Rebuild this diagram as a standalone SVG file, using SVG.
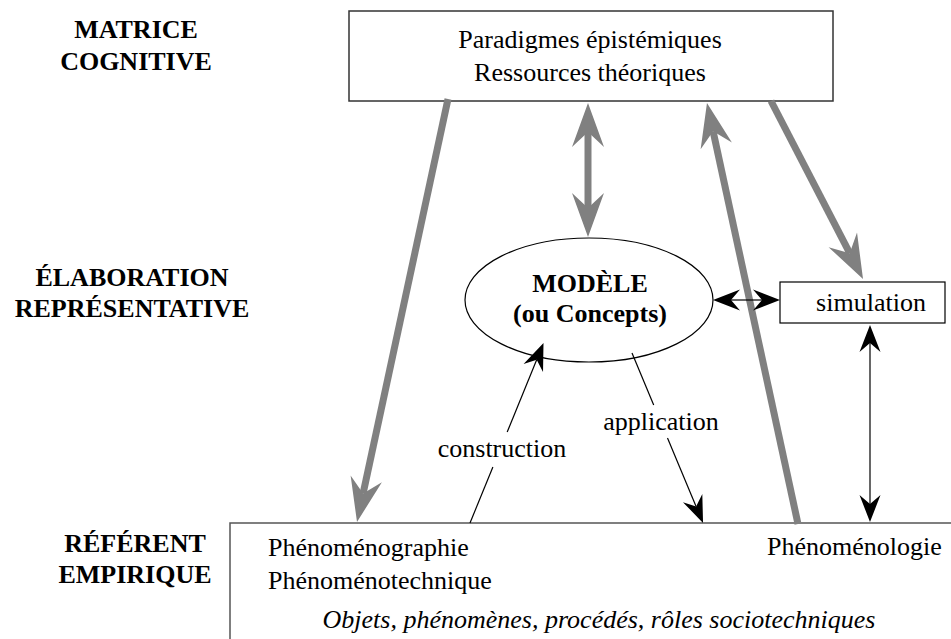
<svg xmlns="http://www.w3.org/2000/svg" width="951" height="639" viewBox="0 0 951 639" font-family="'Liberation Serif', 'DejaVu Serif', serif">
<style>
text{font-family:'Liberation Serif','DejaVu Serif',serif;font-size:26px;fill:#000}
.b{font-weight:bold}
.i{font-style:italic}
.m{text-anchor:middle}
.box{fill:#fff;stroke:#333;stroke-width:1.5}
.thin{fill:none;stroke:#000;stroke-width:1.2}
.g{fill:none;stroke:#808080;stroke-width:7}
.k{fill:none;stroke:#000;stroke-width:1.2}
</style>
<defs>
<marker id="ga" markerUnits="userSpaceOnUse" markerWidth="60" markerHeight="60" refX="0" refY="0" orient="auto-start-reverse" overflow="visible">
<path d="M29,0 L-15,-16 L0,0 L-15,16 Z" fill="#808080"/>
</marker>
<marker id="ka" markerUnits="userSpaceOnUse" markerWidth="40" markerHeight="40" refX="0" refY="0" orient="auto-start-reverse" overflow="visible">
<path d="M18,0 L-9,-10.5 L0,0 L-9,10.5 Z" fill="#000"/>
</marker>
</defs>
<rect width="951" height="639" fill="#fff"/>

<g id="labels">
<text class="b m" x="136" y="38">MATRICE</text>
<text class="b m" x="136" y="70">COGNITIVE</text>
<text class="b m" x="132" y="286">ÉLABORATION</text>
<text class="b m" x="132" y="317">REPRÉSENTATIVE</text>
<text class="b m" x="135" y="552">RÉFÉRENT</text>
<text class="b m" x="135" y="583">EMPIRIQUE</text>
</g>

<g id="matrice">
<rect class="box" x="349" y="11" width="484" height="90"/>
<text class="m" x="590" y="48">Paradigmes épistémiques</text>
<text class="m" x="590" y="81">Ressources théoriques</text>
</g>

<g id="referent">
<rect class="box" x="230" y="523" width="760" height="200" style="stroke:#555"/>
<text x="268" y="556">Phénoménographie</text>
<text x="268" y="589">Phénoménotechnique</text>
<text class="i m" x="599" y="628">Objets, phénomènes, procédés, rôles sociotechniques</text>
<text x="767" y="555">Phénoménologie</text>
</g>

<g id="modele">
<ellipse class="thin" cx="589" cy="300" rx="124" ry="62" fill="#fff"/>
<text class="b m" x="590" y="292">MODÈLE</text>
<text class="b m" x="590" y="322">(ou Concepts)</text>
</g>

<g id="simulation">
<rect class="thin" x="780" y="282" width="165" height="41" fill="#fff"/>
<text class="m" x="871" y="311">simulation</text>
</g>

<g id="connectors">
<path class="g" d="M448,99 L363.1,493.6" marker-end="url(#ga)"/>
<path class="g" d="M588,132 L588,208" marker-start="url(#ga)" marker-end="url(#ga)"/>
<path class="g" d="M798,524 L713.1,131.3" marker-end="url(#ga)"/>
<path class="g" d="M771,101 L849.7,253.2" marker-end="url(#ga)"/>
<path class="k" d="M731,300 L762,300" marker-start="url(#ka)" marker-end="url(#ka)"/>
<path class="k" d="M870,343 L870,504" marker-start="url(#ka)" marker-end="url(#ka)"/>
<path class="k" d="M470,523 L492.9,467"/>
<path class="k" d="M507.2,432 L536.7,359.7" marker-end="url(#ka)"/>
<path class="k" d="M632,353 L653.7,405"/>
<path class="k" d="M667.5,438 L696.1,506.4" marker-end="url(#ka)"/>
<text class="m" x="502" y="457">construction</text>
<text class="m" x="661" y="430">application</text>
</g>
</svg>
